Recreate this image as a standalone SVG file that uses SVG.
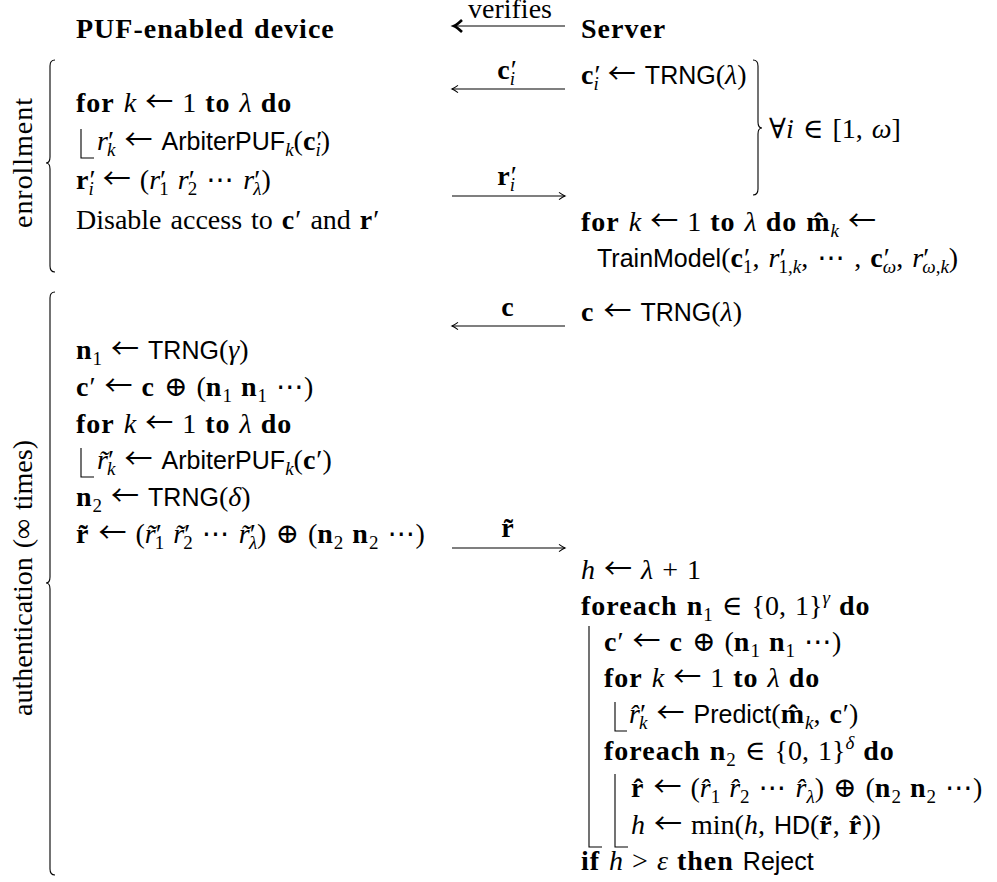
<svg xmlns="http://www.w3.org/2000/svg" width="997" height="882" viewBox="0 0 997 882">
<style>
.m{font-family:"Liberation Serif","DejaVu Serif","DejaVu Sans",serif;font-size:28px;fill:#000;word-spacing:2px}
.i{font-style:italic}
.b{font-weight:bold;letter-spacing:1px}
.a{font-family:"Noto Sans CJK JP","DejaVu Sans",sans-serif;font-style:normal;font-weight:normal;letter-spacing:0}
.sf{font-family:"Liberation Sans","DejaVu Sans",sans-serif;font-size:25px;font-style:normal;font-weight:normal}
.sb{font-size:19px;baseline-shift:-6px;letter-spacing:0}
.sp{font-size:19px;baseline-shift:11px;letter-spacing:0}
.ln{fill:none;stroke:#000;stroke-width:1.1}
.ar{fill:none;stroke:#000;stroke-width:1.1}
.lbl{font-family:"Liberation Serif","DejaVu Serif",serif;font-size:28px;text-anchor:middle}
</style>
<defs>
<marker id="head" markerUnits="userSpaceOnUse" markerWidth="14" markerHeight="14" viewBox="-10 -7 12 14" refX="0" refY="0" orient="auto" overflow="visible">
<path d="M-6,-3.6 Q-2,-0.8 0,0 Q-2,0.8 -6,3.6" fill="none" stroke="#000" stroke-width="1.1"/>
</marker>
<marker id="headThick" markerUnits="userSpaceOnUse" markerWidth="20" markerHeight="20" viewBox="-12 -10 14 20" refX="0" refY="0" orient="auto" overflow="visible">
<path d="M-8,-6 Q-3,-1.2 0,0 Q-3,1.2 -8,6" fill="none" stroke="#000" stroke-width="2.6"/>
</marker>
</defs>

<g id="connectors">
<line class="ar" x1="565" y1="26" x2="454" y2="26" stroke-width="2.6" marker-end="url(#headThick)"/>
<line class="ar" x1="565" y1="89" x2="452" y2="89" marker-end="url(#head)"/>
<line class="ar" x1="452" y1="196" x2="565" y2="196" marker-end="url(#head)"/>
<line class="ar" x1="565" y1="326" x2="452" y2="326" marker-end="url(#head)"/>
<line class="ar" x1="452" y1="548" x2="565" y2="548" marker-end="url(#head)"/>
<text class="lbl" x="510" y="18" font-size="21">verifies</text>
<text class="lbl" x="507" y="79"><tspan class="b">c</tspan>′<tspan class="sb i" dx="-7">i</tspan></text>
<text class="lbl" x="507" y="185"><tspan class="b">r</tspan>′<tspan class="sb i" dx="-7">i</tspan></text>
<text class="lbl" x="508" y="316"><tspan class="b">c</tspan></text>
<text class="lbl" x="508" y="537"><tspan class="b">r̃</tspan></text>
</g>

<g id="phase-labels">
<path class="ln" d="M55,60 Q50,60 50,66 V157 Q50,163 46,163 Q50,163 50,169 V266 Q50,272 55,272"/>
<text class="m" transform="translate(32,163) rotate(-90)" text-anchor="middle" textLength="130" word-spacing="0">enrollment</text>
<path class="ln" d="M55,292 Q50,292 50,298 V577 Q50,583 46,583 Q50,583 50,589 V869 Q50,875 55,875"/>
<text class="m" transform="translate(32,578) rotate(-90)" text-anchor="middle" textLength="276" word-spacing="0">authentication (∞ times)</text>
</g>

<g id="device-header">
<text class="m b" x="76" y="38" letter-spacing="2.2" word-spacing="0">PUF-enabled device</text>
</g>

<g id="server-header">
<text class="m b" x="581" y="38">Server</text>
</g>

<g id="enroll-device">
<text class="m" x="76" y="112"><tspan class="b">for</tspan> <tspan class="i">k</tspan> <tspan class="a">←</tspan> 1 <tspan class="b">to</tspan> <tspan class="i">λ</tspan> <tspan class="b">do</tspan></text>
<path class="ln" d="M81,129 V158 H94"/>
<text class="m" x="97" y="150"><tspan class="i">r</tspan>′<tspan class="sb i" dx="-7">k</tspan> <tspan class="a">←</tspan> <tspan class="sf">ArbiterPUF</tspan><tspan class="sb i">k</tspan>(<tspan class="b">c</tspan>′<tspan class="sb i" dx="-7">i</tspan>)</text>
<text class="m" x="76" y="189"><tspan class="b">r</tspan>′<tspan class="sb i" dx="-7">i</tspan> <tspan class="a">←</tspan> (<tspan class="i">r</tspan>′<tspan class="sb" dx="-7">1</tspan> <tspan class="i">r</tspan>′<tspan class="sb" dx="-7">2</tspan> ⋯ <tspan class="i">r</tspan>′<tspan class="sb i" dx="-7">λ</tspan>)</text>
<text class="m" x="76" y="229" word-spacing="0">Disable access to <tspan class="b">c</tspan>′ and <tspan class="b">r</tspan>′</text>
</g>

<g id="enroll-server">
<text class="m" x="581" y="84"><tspan class="b">c</tspan>′<tspan class="sb i" dx="-7">i</tspan> <tspan class="a">←</tspan> <tspan class="sf">TRNG</tspan>(<tspan class="i">λ</tspan>)</text>
<path class="ln" d="M753,60 Q758,60 758,66 V122 Q758,128 762,128 Q758,128 758,134 V189 Q758,195 753,195"/>
<text class="m" x="769" y="138">∀<tspan class="i">i</tspan> ∈ [1, <tspan class="i">ω</tspan>]</text>
<text class="m" x="581" y="231"><tspan class="b">for</tspan> <tspan class="i">k</tspan> <tspan class="a">←</tspan> 1 <tspan class="b">to</tspan> <tspan class="i">λ</tspan> <tspan class="b">do</tspan> <tspan class="b">m̂</tspan><tspan class="sb i">k</tspan> <tspan class="a">←</tspan></text>
<text class="m" x="597" y="267"><tspan class="sf">TrainModel</tspan>(<tspan class="b">c</tspan>′<tspan class="sb" dx="-7">1</tspan>, <tspan class="i">r</tspan>′<tspan class="sb" dx="-7">1,<tspan class="i">k</tspan></tspan>, ⋯ , <tspan class="b">c</tspan>′<tspan class="sb i" dx="-7">ω</tspan>, <tspan class="i">r</tspan>′<tspan class="sb" dx="-7"><tspan class="i">ω</tspan>,<tspan class="i">k</tspan></tspan>)</text>
</g>

<g id="auth-device">
<text class="m" x="76" y="359"><tspan class="b">n</tspan><tspan class="sb">1</tspan> <tspan class="a">←</tspan> <tspan class="sf">TRNG</tspan>(<tspan class="i">γ</tspan>)</text>
<text class="m" x="76" y="396"><tspan class="b">c</tspan>′ <tspan class="a">←</tspan> <tspan class="b">c</tspan> ⊕ (<tspan class="b">n</tspan><tspan class="sb">1</tspan> <tspan class="b">n</tspan><tspan class="sb">1</tspan> ⋯)</text>
<text class="m" x="76" y="433"><tspan class="b">for</tspan> <tspan class="i">k</tspan> <tspan class="a">←</tspan> 1 <tspan class="b">to</tspan> <tspan class="i">λ</tspan> <tspan class="b">do</tspan></text>
<path class="ln" d="M81,448 V477 H94"/>
<text class="m" x="97" y="469"><tspan class="i">r̃</tspan>′<tspan class="sb i" dx="-7">k</tspan> <tspan class="a">←</tspan> <tspan class="sf">ArbiterPUF</tspan><tspan class="sb i">k</tspan>(<tspan class="b">c</tspan>′)</text>
<text class="m" x="76" y="506"><tspan class="b">n</tspan><tspan class="sb">2</tspan> <tspan class="a">←</tspan> <tspan class="sf">TRNG</tspan>(<tspan class="i">δ</tspan>)</text>
<text class="m" x="76" y="543"><tspan class="b">r̃</tspan> <tspan class="a">←</tspan> (<tspan class="i">r̃</tspan>′<tspan class="sb" dx="-7">1</tspan> <tspan class="i">r̃</tspan>′<tspan class="sb" dx="-7">2</tspan> ⋯ <tspan class="i">r̃</tspan>′<tspan class="sb i" dx="-7">λ</tspan>) ⊕ (<tspan class="b">n</tspan><tspan class="sb">2</tspan> <tspan class="b">n</tspan><tspan class="sb">2</tspan> ⋯)</text>
</g>

<g id="auth-server">
<text class="m" x="581" y="321"><tspan class="b">c</tspan> <tspan class="a">←</tspan> <tspan class="sf">TRNG</tspan>(<tspan class="i">λ</tspan>)</text>
<text class="m" x="581" y="579"><tspan class="i">h</tspan> <tspan class="a">←</tspan> <tspan class="i">λ</tspan> + 1</text>
<text class="m" x="581" y="615"><tspan class="b">foreach</tspan> <tspan class="b">n</tspan><tspan class="sb">1</tspan> ∈ {0, 1}<tspan class="sp i">γ</tspan> <tspan class="b">do</tspan></text>
<path class="ln" d="M589,626 V847 H602"/>
<text class="m" x="604" y="651"><tspan class="b">c</tspan>′ <tspan class="a">←</tspan> <tspan class="b">c</tspan> ⊕ (<tspan class="b">n</tspan><tspan class="sb">1</tspan> <tspan class="b">n</tspan><tspan class="sb">1</tspan> ⋯)</text>
<text class="m" x="604" y="687"><tspan class="b">for</tspan> <tspan class="i">k</tspan> <tspan class="a">←</tspan> 1 <tspan class="b">to</tspan> <tspan class="i">λ</tspan> <tspan class="b">do</tspan></text>
<path class="ln" d="M615,702 V731 H627"/>
<text class="m" x="629" y="723"><tspan class="i">r̂</tspan>′<tspan class="sb i" dx="-7">k</tspan> <tspan class="a">←</tspan> <tspan class="sf">Predict</tspan>(<tspan class="b">m̂</tspan><tspan class="sb i">k</tspan>, <tspan class="b">c</tspan>′)</text>
<text class="m" x="604" y="760"><tspan class="b">foreach</tspan> <tspan class="b">n</tspan><tspan class="sb">2</tspan> ∈ {0, 1}<tspan class="sp i">δ</tspan> <tspan class="b">do</tspan></text>
<path class="ln" d="M615,774 V847 H628"/>
<text class="m" x="631" y="797"><tspan class="b">r̂</tspan> <tspan class="a">←</tspan> (<tspan class="i">r̂</tspan><tspan class="sb">1</tspan> <tspan class="i">r̂</tspan><tspan class="sb">2</tspan> ⋯ <tspan class="i">r̂</tspan><tspan class="sb i">λ</tspan>) ⊕ (<tspan class="b">n</tspan><tspan class="sb">2</tspan> <tspan class="b">n</tspan><tspan class="sb">2</tspan> ⋯)</text>
<text class="m" x="631" y="834"><tspan class="i">h</tspan> <tspan class="a">←</tspan> min(<tspan class="i">h</tspan>, <tspan class="sf">HD</tspan>(<tspan class="b">r̃</tspan>, <tspan class="b">r̂</tspan>))</text>
<text class="m" x="581" y="870"><tspan class="b">if</tspan> <tspan class="i">h</tspan> &gt; <tspan class="i">ε</tspan> <tspan class="b">then</tspan> <tspan class="sf">Reject</tspan></text>
</g>
</svg>
